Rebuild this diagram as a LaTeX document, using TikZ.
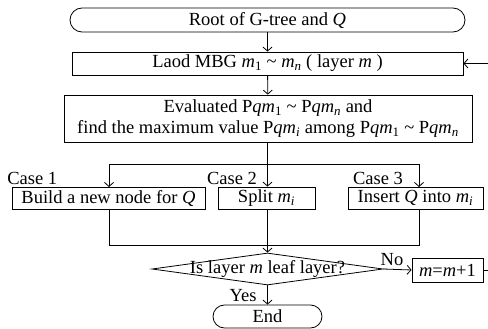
\documentclass[tikz,border=0pt]{standalone}
\usepackage{fontspec}
\setmainfont{Liberation Serif}
\usetikzlibrary{arrows.meta, shapes.geometric, positioning}

\newcommand{\vi}[1]{\textit{#1}}
\newcommand{\sub}[1]{\textsubscript{\textit{#1}}}
\newcommand{\subn}[1]{\textsubscript{#1}}
\newcommand{\tl}{\textasciitilde}

\begin{document}
\begin{tikzpicture}[x=1pt, y=-1pt, line width=0.8pt, font=\fontsize{18.5}{21}\selectfont,
                    every node/.style={inner sep=0pt},
                    box/.style={draw, rectangle, minimum height=23pt},
                    term/.style={draw, rectangle, rounded corners=11.5pt, minimum height=23pt},
                    dia/.style={draw, diamond, minimum width=231pt, minimum height=32pt},
                    tag/.style={anchor=base},
                    arr/.style={-{Straight Barb[length=4pt, width=9pt]}}]
                    \useasboundingbox (0,0) rectangle (488,329);
                    \node[term, minimum width=395pt, minimum height=24pt, rounded corners=12pt] (root) at (267.5,20) {Root of G-tree and \vi{Q}};
                    \node[box, minimum width=391pt] (load) at (267.5,63.5) {Laod MBG \vi{m}\subn{1} \tl{} \vi{m}\sub{n} ( layer \vi{m} )};
                    \node[box, minimum width=408pt, minimum height=47pt, align=center] (eval) at (268,118.5) {Evaluated P\vi{qm}\subn{1} \tl{} P\vi{qm}\sub{n} and\\ find the maximum value P\vi{qm}\sub{i} among P\vi{qm}\subn{1} \tl{} P\vi{qm}\sub{n}};
                    \coordinate (split) at (267.5,164);
                    \node[box, minimum width=193pt, minimum height=22pt] (build) at (108.5,198) {Build a new node for \vi{Q}};
                    \node[box, minimum width=97pt, minimum height=22pt] (cut) at (266.5,198) {Split \vi{m}\sub{i}};
                    \node[box, minimum width=135pt, minimum height=22pt] (insert) at (415.5,198) {Insert \vi{Q} into \vi{m}\sub{i}};
                    \node[tag, anchor=base west] (c1) at (7,185) {Case 1};
                    \node[tag] (c2) at (232,185) {Case 2};
                    \node[tag] (c3) at (378,185) {Case 3};
                    \coordinate (join) at (267.5,245);
                    \node[dia] (leaf) at (267.5,269) {};
                    \node (leaftxt) at (leaf) {Is layer \vi{m} leaf layer?};
                    \node[box, minimum width=71pt, minimum height=24pt] (next) at (447.5,270) {\vi{m}=\vi{m}+1};
                    \node[term, minimum width=109pt] (end) at (267.5,316.5) {End};
                    \node[tag] (no) at (392,265) {No};
                    \node[tag] (yes) at (243,301) {Yes};
                    \coordinate (back) at (490,270);
                    \coordinate (backup) at (490,63.5);
                    \draw[arr] (root) -- (load);
                    \draw[arr] (load) -- (eval);
                    \draw (eval.south -| split) -- (split);
                    \draw (109,164) -- (419,164);
                    \draw[arr] (109,164) -- (109,187);
                    \draw[arr] (split) -- (split |- cut.north);
                    \draw[arr] (419,164) -- (419,187);
                    \draw (109,209) -- (109,245) -- (419,245) -- (419,209);
                    \draw (cut.south -| split) -- (join);
                    \draw[arr] (join) -- (leaf.north);
                    \draw[arr] (leaf.east) -- (next.west);
                    \draw[arr] (leaf.south) -- (end.north);
                    \draw (next.east) -- (back) -- (backup);
                    \draw[arr] (backup) -- (load.east);
                \end{tikzpicture}
\end{document}
